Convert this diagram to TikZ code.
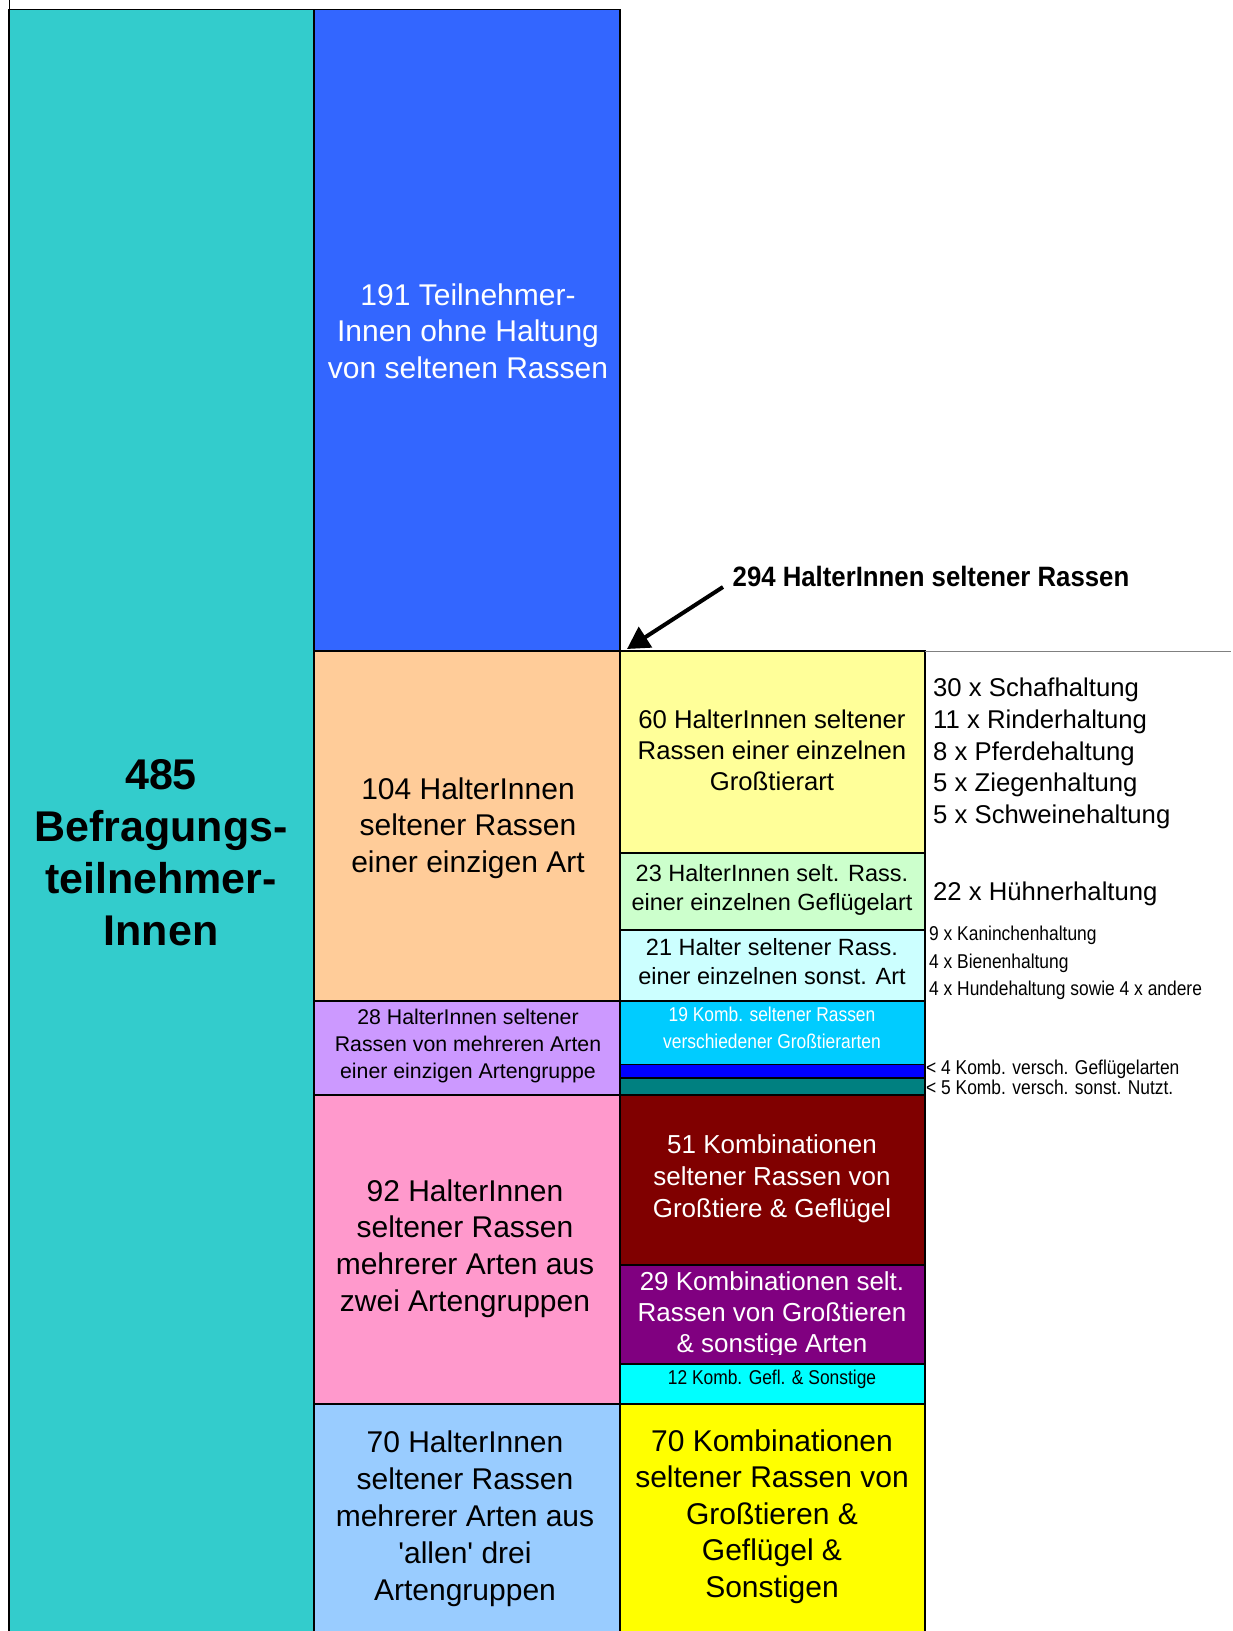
\documentclass[tikz,border=0pt]{standalone}
\usepackage{fontspec}
\setmainfont{Liberation Sans}
\newfontfamily\narrowfont[FakeStretch=0.87]{Liberation Sans}
\newfontfamily\labelfont[FakeStretch=0.92]{Liberation Sans}
\newfontfamily\straightfont[Ligatures=TeXOff]{Liberation Sans}
\usetikzlibrary{arrows.meta}
\definecolor{cTeal}{HTML}{33CCCC}
\definecolor{cBlue}{HTML}{3366FF}
\definecolor{cOrange}{HTML}{FFCC99}
\definecolor{cLav}{HTML}{CC99FF}
\definecolor{cPink}{HTML}{FF99CC}
\definecolor{cLBlue}{HTML}{99CCFF}
\definecolor{cLYellow}{HTML}{FFFF99}
\definecolor{cLGreen}{HTML}{CCFFCC}
\definecolor{cLCyan}{HTML}{CCFFFF}
\definecolor{cSky}{HTML}{00CCFF}
\definecolor{cPure}{HTML}{0000FF}
\definecolor{cDTeal}{HTML}{008080}
\definecolor{cDRed}{HTML}{800000}
\definecolor{cPurple}{HTML}{800080}
\definecolor{cCyan}{HTML}{00FFFF}
\definecolor{cYellow}{HTML}{FFFF00}
\begin{document}
\begin{tikzpicture}[x=1pt,y=-1pt,
  box/.style={draw=black,line width=1.8pt},
  txt/.style={align=center,inner sep=0pt},
  big/.style={txt,font=\fontsize{30}{36.6}\selectfont},
  mid/.style={txt,font=\fontsize{25.7}{31.3}\selectfont},
  small/.style={txt,font=\fontsize{23.5}{29}\selectfont},
  narrow/.style={txt,font=\narrowfont\fontsize{20}{27}\selectfont},
  ann/.style={align=left,inner sep=0pt,anchor=west}]
\useasboundingbox (0,0) rectangle (1233,1631);
\fill[white] (0,0) rectangle (1233,1631);
\begin{scope}
\clip (0,0) rectangle (1233,1631);
% left column
\filldraw[box,fill=cTeal] (9,9.5) rectangle (314,1640);
\draw[line width=0.8pt] (9,0) -- (9,9.5);
% middle column
\filldraw[box,fill=cBlue]   (314,9.5)   rectangle (620,651.3);
\filldraw[box,fill=cOrange] (314,651.3) rectangle (620,1000.7);
\filldraw[box,fill=cLav]    (314,1000.7) rectangle (620,1094.8);
\filldraw[box,fill=cPink]   (314,1094.8) rectangle (620,1403.9);
\filldraw[box,fill=cLBlue]  (314,1403.9) rectangle (620,1640);
% right column
\filldraw[box,fill=cLYellow] (620,651.3) rectangle (925,852.9);
\filldraw[box,fill=cLGreen]  (620,852.9) rectangle (925,929.9);
\filldraw[box,fill=cLCyan]   (620,929.9) rectangle (925,1000.7);
\filldraw[box,fill=cSky]     (620,1000.7) rectangle (925,1064.5);
\filldraw[box,fill=cPure]    (620,1064.5) rectangle (925,1077.9);
\filldraw[box,fill=cDTeal]   (620,1077.9) rectangle (925,1094.8);
\filldraw[box,fill=cDRed]    (620,1094.8) rectangle (925,1265.1);
\filldraw[box,fill=cPurple]  (620,1265.1) rectangle (925,1363.6);
\filldraw[box,fill=cCyan]    (620,1363.6) rectangle (925,1403.9);
\filldraw[box,fill=cYellow]  (620,1403.9) rectangle (925,1640);
\end{scope}
\draw[gray,line width=1pt] (925,651.3) -- (1231,651.3);

% texts
\node[txt,font=\bfseries\fontsize{43}{52}\selectfont] (t485) at (161,853) {485\\Befragungs-\\teilnehmer-\\Innen};
\node[big,text=white] (t191) at (468,331) {191 Teilnehmer-\\Innen ohne Haltung\\von seltenen Rassen};
\node[big] (t104) at (468,828) {104 HalterInnen\\seltener Rassen\\einer einzigen Art};
\node[txt,font=\fontsize{21.3}{27}\selectfont] (t28) at (468,1046) {28 HalterInnen seltener\\Rassen von mehreren Arten\\einer einzigen Artengruppe};
\node[big] (t92) at (465,1248.5) {92 HalterInnen\\seltener Rassen\\mehrerer Arten aus\\zwei Artengruppen};
\node[big,font=\fontsize{30}{37}\selectfont] (t70l) at (465,1519) {70 HalterInnen\\seltener Rassen\\mehrerer Arten aus\\{\straightfont'}allen{\straightfont'} drei\\Artengruppen};
\node[mid] (t60) at (772,750.5) {60 HalterInnen seltener\\Rassen einer einzelnen\\Großtierart};
\node[small] (t23) at (772,889.5) {23 HalterInnen selt. Rass.\\einer einzelnen Geflügelart};
\node[small] (t21) at (772,962) {21 Halter seltener Rass.\\einer einzelnen sonst. Art};
\node[narrow,text=white] (t19) at (772,1027.5) {19 Komb. seltener Rassen\\verschiedener Großtierarten};
\node[txt,text=white,font=\fontsize{26}{32}\selectfont] (t51) at (772,1178.5) {51 Kombinationen\\seltener Rassen von\\Großtiere \& Geflügel};
\begin{scope}
\clip (620,1265.1) rectangle (925,1354);
\node[txt,text=white,font=\fontsize{26}{31}\selectfont] (t29) at (772,1314.5) {29 Kombinationen selt.\\Rassen von Großtieren\\\& sonstige Arten};
\end{scope}
\node[narrow] (t12) at (772,1379) {12 Komb. Gefl. \& Sonstige};
\node[big] (t70r) at (772,1516.5) {70 Kombinationen\\seltener Rassen von\\Großtieren \&\\Geflügel \&\\Sonstigen};

% annotations
\node[ann,font=\fontsize{25.7}{31.7}\selectfont] (a1) at (933,753.5) {30 x Schafhaltung\\11 x Rinderhaltung\\8 x Pferdehaltung\\5 x Ziegenhaltung\\5 x Schweinehaltung};
\node[ann,font=\fontsize{25.7}{31.7}\selectfont] (a2) at (933,894) {22 x Hühnerhaltung};
\node[ann,font=\narrowfont\fontsize{20}{27.5}\selectfont] (a3) at (929,963) {9 x Kaninchenhaltung\\4 x Bienenhaltung\\4 x Hundehaltung sowie 4 x andere};
\node[ann,font=\narrowfont\fontsize{20}{20}\selectfont] (a4) at (926,1069.5) {< 4 Komb. versch. Geflügelarten};
\node[ann,font=\narrowfont\fontsize{20}{20}\selectfont] (a5) at (926,1087.5) {< 5 Komb. versch. sonst. Nutzt.};

% 294 label and arrow
\node[ann,font=\labelfont\bfseries\fontsize{28}{30}\selectfont] (l294) at (732.5,576.5) {294 HalterInnen seltener Rassen};
\coordinate (arrowstart) at (723,587);
\coordinate (arrowtip) at (627,649);
\draw[line width=4pt,-{Triangle[length=22pt,width=24pt]}] (arrowstart) -- (arrowtip);
\end{tikzpicture}
\end{document}
